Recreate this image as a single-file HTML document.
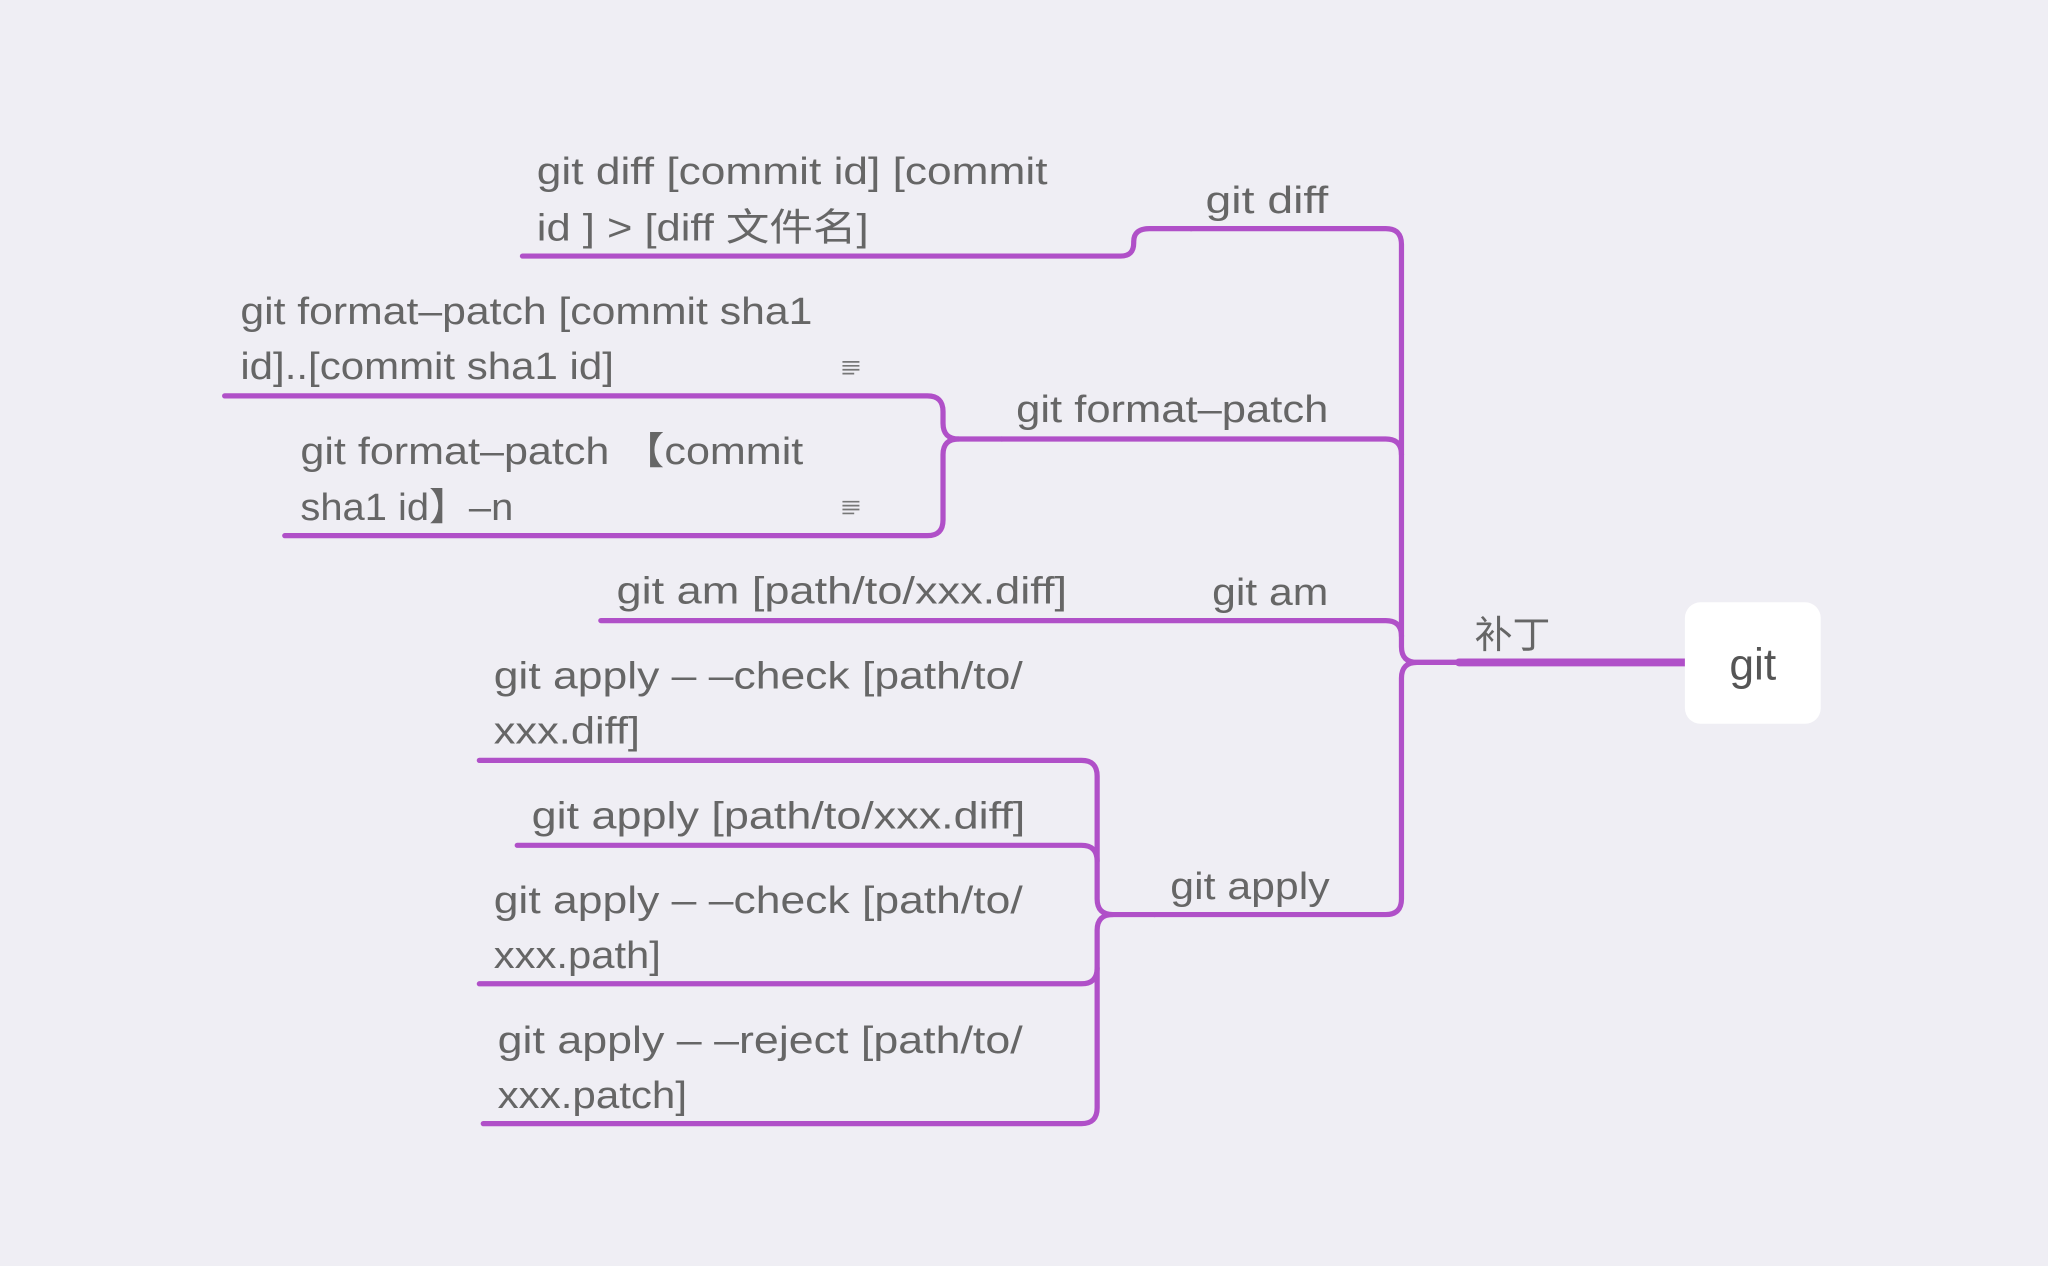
<!DOCTYPE html>
<html><head><meta charset="utf-8"><style>
html,body{margin:0;padding:0;background:#efeef4;}
svg{display:block;}
text{font-family:"Liberation Sans","Noto Sans CJK SC",sans-serif;fill:#666;font-size:29px;}
</style></head><body>
<svg width="2048" height="1266" viewBox="0 0 1568 969" preserveAspectRatio="none" xmlns="http://www.w3.org/2000/svg">
<rect width="1568" height="969" fill="#efeef4"/>
<g fill="none" stroke="#b050c8" stroke-width="4" stroke-linecap="round" stroke-linejoin="round">
<path d="M1290 507 H1117" stroke-width="6"/>
<path d="M1117 507 H1085 Q1073 507 1073 495 V187 Q1073 175 1061 175 H912"/>
<path d="M1073 348 Q1073 336 1061 336 H767"/>
<path d="M1073 487 Q1073 475 1061 475 H460"/>
<path d="M1117 507 H1085 Q1073 507 1073 519 V688 Q1073 700 1061 700 H884"/>
<path d="M912 175 H880 Q868 175 868 185 V186 Q868 196 858 196 H400"/>
<path d="M767 336 H734 Q722 336 722 324 V315 Q722 303 710 303 H172"/>
<path d="M734 336 Q722 336 722 348 V398 Q722 410 710 410 H218"/>
<path d="M884 700 H852 Q840 700 840 688 V594 Q840 582 828 582 H367"/>
<path d="M840 659 Q840 647 828 647 H396"/>
<path d="M852 700 Q840 700 840 712 V741 Q840 753 828 753 H367"/>
<path d="M840 741 V848 Q840 860 828 860 H370"/>
</g>
<rect x="1290" y="461" width="104" height="93" rx="12" fill="#fff"/>
<text x="1342" y="520" text-anchor="middle" style="font-size:34px;fill:#555">git</text>
<text x="1129" y="496" textLength="58" lengthAdjust="spacingAndGlyphs">补丁</text>
<text x="923" y="163" textLength="94" lengthAdjust="spacingAndGlyphs">git diff</text>
<text x="778" y="323" textLength="239" lengthAdjust="spacingAndGlyphs">git format–patch</text>
<text x="928" y="463" textLength="89" lengthAdjust="spacingAndGlyphs">git am</text>
<text x="896" y="688" textLength="122" lengthAdjust="spacingAndGlyphs">git apply</text>
<text x="411" y="141" textLength="391" lengthAdjust="spacingAndGlyphs">git diff [commit id] [commit</text>
<text x="411" y="184" textLength="254" lengthAdjust="spacingAndGlyphs">id ] &gt; [diff 文件名]</text>
<text x="184" y="248" textLength="438" lengthAdjust="spacingAndGlyphs">git format–patch [commit sha1</text>
<text x="184" y="290" textLength="286" lengthAdjust="spacingAndGlyphs">id]..[commit sha1 id]</text>
<text x="230" y="355" textLength="385" lengthAdjust="spacingAndGlyphs">git format–patch 【commit</text>
<text x="230" y="398" textLength="163" lengthAdjust="spacingAndGlyphs">sha1 id】–n</text>
<text x="472" y="462" textLength="345" lengthAdjust="spacingAndGlyphs">git am [path/to/xxx.diff]</text>
<text x="378" y="527" textLength="405" lengthAdjust="spacingAndGlyphs">git apply – –check [path/to/</text>
<text x="378" y="569" textLength="112" lengthAdjust="spacingAndGlyphs">xxx.diff]</text>
<text x="407" y="634" textLength="378" lengthAdjust="spacingAndGlyphs">git apply [path/to/xxx.diff]</text>
<text x="378" y="699" textLength="405" lengthAdjust="spacingAndGlyphs">git apply – –check [path/to/</text>
<text x="378" y="741" textLength="128" lengthAdjust="spacingAndGlyphs">xxx.path]</text>
<text x="381" y="806" textLength="402" lengthAdjust="spacingAndGlyphs">git apply – –reject [path/to/</text>
<text x="381" y="848" textLength="145" lengthAdjust="spacingAndGlyphs">xxx.patch]</text>
<g stroke="#777" stroke-width="1.3">
<path d="M645 277 H658 M645 280 H658 M645 283 H658 M645 286 H654"/>
<path d="M645 384 H658 M645 387 H658 M645 390 H658 M645 393 H654"/>
</g>
</svg>
</body></html>
